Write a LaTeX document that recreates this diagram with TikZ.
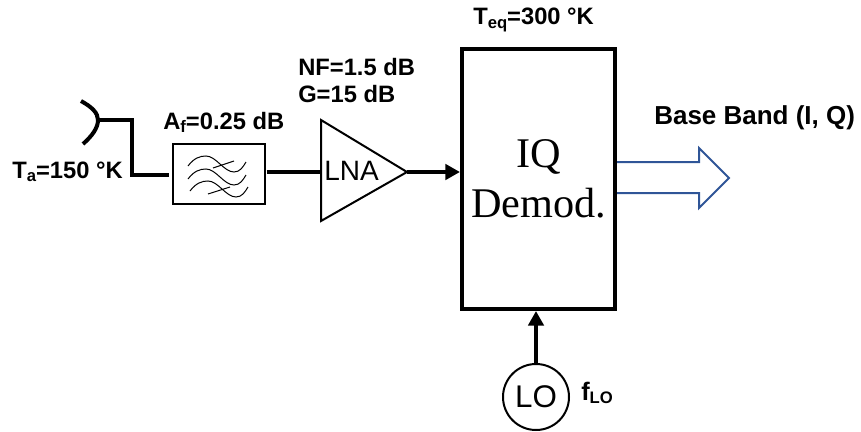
\documentclass[tikz,border=0pt]{standalone}
\usepackage{fontspec}
\setmainfont{Liberation Sans}
\newfontfamily\serifdemod{Liberation Serif}
\usetikzlibrary{arrows.meta}
\definecolor{bandblue}{RGB}{47,85,151}
\newcommand{\lowtext}[1]{\raisebox{-0.25ex}{\fontsize{12.5}{14}\selectfont #1}}
\tikzset{
  lbl/.style={font=\bfseries\fontsize{17.8}{21}\selectfont, inner sep=0pt, anchor=west},
  wire/.style={line width=3pt},
  sig/.style={line width=3pt, -{Triangle[length=11pt,width=11.5pt]}},
  thin/.style={line width=0.75pt}
}
\begin{document}
\begin{tikzpicture}[x=0.75pt,y=-0.75pt]
    \useasboundingbox (0,0) rectangle (861,432);
    % blocks
    \node[draw, line width=3pt, minimum width=114.75pt, minimum height=195pt, inner sep=0pt, outer sep=1.5pt,
      align=center, font=\serifdemod\fontsize{31.7}{38}\selectfont] (demod) at (538.5,179) {IQ\\[-0.5pt]Demod.};
    \node[draw, line width=1.5pt, minimum width=69pt, minimum height=45pt, inner sep=0pt, outer sep=1.5pt] (filter) at (218.5,173.5) {};
    \node[draw, circle, line width=1.5pt, minimum size=49.5pt, inner sep=0pt, outer sep=0pt,
      font=\fontsize{23.5}{28}\selectfont] (lo) at (536,397) {LO};
    % LNA triangle
    \coordinate (lnatop) at (321,120);
    \coordinate (lnabot) at (321,221);
    \coordinate (lnaout) at (407,172);
    \coordinate (lnain) at (321,172);
    \draw[line width=1.5pt, line join=miter] (lnatop) -- (lnaout) -- (lnabot) -- cycle;
    \node[font=\fontsize{21}{25}\selectfont, inner sep=0pt] (lna) at (351.5,170.5) {LNA};
    % antenna
    \coordinate (dish) at (98,120);
    \coordinate (bend) at (132,120);
    \coordinate (bendb) at (132,175);
    \coordinate (filterin) at (169,175);
    \draw[wire] (81,101) .. controls (92,107) and (98,113) .. (dish) .. controls (98,128) and (92,136) .. (83,144);
    \draw[wire, line join=miter] (dish) -- (bend) -- (bendb) -- (filterin);
    % connectors
    \draw[wire] (filter.east |- lnain) -- (lnain);
    \draw[sig] (lnaout) -- (lnaout -| demod.west);
    \draw[sig] (lo.north) -- (demod.south -| lo.north);
    % waves in the filter
    \foreach \dy/\dx in {0/0,13/0,25/2}{
      \draw[thin, xshift=\dx*0.75pt, yshift=-\dy*0.75pt]
        (188,166) .. controls (194,158) and (200,156) .. (206,156)
        .. controls (216,156) and (224,172) .. (234,172) .. controls (240,172) and (243,167) .. (246,162);
    }
    \draw[thin] (213,168) -- (234,161);
    \draw[thin] (208,194) -- (230,187);
    % output arrow
    \draw[bandblue, line width=1.5pt, line join=miter]
      (demod.east |- 0,162) -- (699,162) -- (699,148) -- (729,178) -- (699,208) -- (699,193) -- (demod.east |- 0,193);
    % labels
    \node[lbl] (ta) at (12,172) {T\lowtext{a}=150 °K};
    \node[lbl] (af) at (163,122) {A\lowtext{f}=0.25 dB};
    \node[lbl] (nf) at (298,67) {NF=1.5 dB};
    \node[lbl] (gain) at (298,94) {G=15 dB};
    \node[lbl] (teq) at (473,20) {T\lowtext{eq}=300 °K};
    \node[lbl, font=\bfseries\fontsize{19.5}{23}\selectfont] (bb) at (654,118) {Base Band (I, Q)};
    \node[lbl, font=\bfseries\fontsize{19}{23}\selectfont] (flo) at (581,393) {f\lowtext{LO}};
\end{tikzpicture}
\end{document}
